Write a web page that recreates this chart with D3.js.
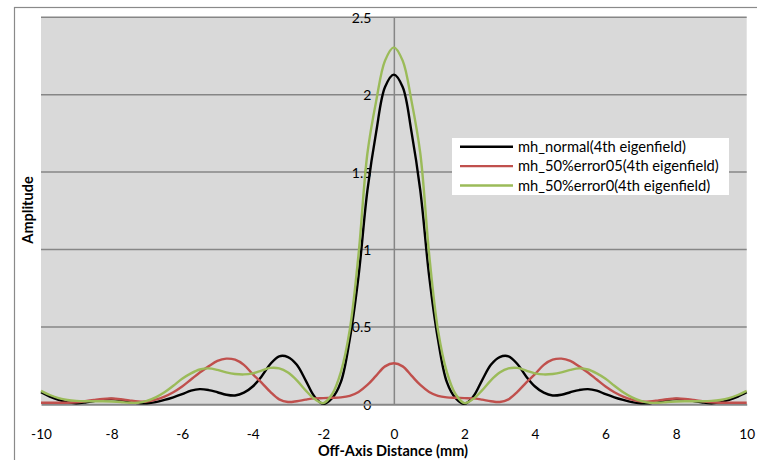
<!DOCTYPE html>
<html>
<head>
<meta charset="utf-8">
<script src="https://cdn.jsdelivr.net/npm/d3@7/dist/d3.min.js"></script>
<style>
  html, body { margin: 0; padding: 0; background: #ffffff; }
  svg { display: block; }
  text { font-family: Lato, "Open Sans", "Liberation Sans", sans-serif; fill: #000; }
</style>
</head>
<body>
<svg id="chart" width="757" height="460"></svg>
<script>
// Off-axis positions (mm), sampled every 0.25 mm
const distance = d3.range(-40, 41).map(i => i * 0.25);

// Amplitude profiles of the 4th eigenfield
const normal = [
  0.078, 0.05, 0.028, 0.012, 0.007, 0.012, 0.021, 0.03, 0.034, 0.028,
  0.017, 0.008, 0.007, 0.014, 0.028, 0.045, 0.065, 0.088, 0.098, 0.092,
  0.078, 0.062, 0.057, 0.075, 0.115, 0.18, 0.26, 0.31, 0.305, 0.255,
  0.155, 0.05, 0.003, 0.04, 0.145, 0.42, 0.83, 1.38, 1.76, 2.05,
  2.13,
  2.05, 1.76, 1.38, 0.83, 0.42, 0.145, 0.04, 0.003, 0.05, 0.155,
  0.255, 0.305, 0.31, 0.26, 0.18, 0.115, 0.075, 0.057, 0.062, 0.078,
  0.092, 0.098, 0.088, 0.065, 0.045, 0.028, 0.014, 0.007, 0.007, 0.017,
  0.028, 0.034, 0.03, 0.021, 0.012, 0.007, 0.012, 0.028, 0.05, 0.078
];

const error05 = [
  0.01, 0.01, 0.01, 0.01, 0.013, 0.02, 0.028, 0.035, 0.037, 0.033,
  0.025, 0.018, 0.018, 0.03, 0.05, 0.078, 0.115, 0.16, 0.205, 0.245,
  0.28, 0.295, 0.288, 0.255, 0.195, 0.14, 0.08, 0.032, 0.015, 0.02,
  0.03, 0.038, 0.04, 0.042, 0.045, 0.055, 0.08, 0.125, 0.185, 0.245,
  0.265,
  0.245, 0.185, 0.125, 0.08, 0.055, 0.045, 0.042, 0.04, 0.038, 0.03,
  0.02, 0.015, 0.032, 0.08, 0.14, 0.195, 0.255, 0.288, 0.295, 0.28,
  0.245, 0.205, 0.16, 0.115, 0.078, 0.05, 0.03, 0.018, 0.018, 0.025,
  0.033, 0.037, 0.035, 0.028, 0.02, 0.013, 0.01, 0.01, 0.01, 0.01
];

const error0 = [
  0.087, 0.06, 0.04, 0.028, 0.022, 0.02, 0.02, 0.02, 0.018, 0.015,
  0.01, 0.01, 0.022, 0.045, 0.078, 0.12, 0.165, 0.2, 0.225, 0.232,
  0.222, 0.206, 0.196, 0.193, 0.2, 0.218, 0.235, 0.232, 0.205, 0.155,
  0.09, 0.035, 0.008, 0.065, 0.21, 0.48, 0.97, 1.62, 1.96, 2.22,
  2.306,
  2.22, 1.96, 1.62, 0.97, 0.48, 0.21, 0.065, 0.008, 0.035, 0.09,
  0.155, 0.205, 0.232, 0.235, 0.218, 0.2, 0.193, 0.196, 0.206, 0.222,
  0.232, 0.225, 0.2, 0.165, 0.12, 0.078, 0.045, 0.022, 0.01, 0.01,
  0.015, 0.018, 0.02, 0.02, 0.02, 0.022, 0.028, 0.04, 0.06, 0.087
];

const seriesNames = [
  "mh_normal(4th eigenfield)",
  "mh_50%error05(4th eigenfield)",
  "mh_50%error0(4th eigenfield)"
];
const seriesColors = ["#000000", "#C0504D", "#9BBB59"];
const seriesValues = [normal, error05, error0];

const xTicks = [-10, -8, -6, -4, -2, 0, 2, 4, 6, 8, 10];
const yTicks = [0, 0.5, 1, 1.5, 2, 2.5];

const svg = d3.select("#chart");
const plot = { left: 41, right: 746.7, top: 17.3, bottom: 404.3 };

const x = d3.scaleLinear().domain([-10, 10]).range([plot.left, plot.right]);
const y = d3.scaleLinear().domain([0, 2.5]).range([plot.bottom, plot.top]);

// plain hyphen for negatives, no trailing zeros
const fmt = d => String(d);

// chart frame
svg.append("rect")
  .attr("x", 14.5).attr("y", 7.5)
  .attr("width", 800).attr("height", 500)
  .attr("fill", "#fff").attr("stroke", "#8a8a8a").attr("stroke-width", 1.2);

// plot background
svg.append("rect")
  .attr("x", plot.left).attr("y", plot.top)
  .attr("width", plot.right - plot.left).attr("height", plot.bottom - plot.top)
  .attr("fill", "#D9D9D9");

// horizontal gridlines
svg.append("g")
  .selectAll("line")
  .data(yTicks.filter(d => d > 0))
  .join("line")
  .attr("x1", plot.left).attr("x2", plot.right)
  .attr("y1", d => y(d)).attr("y2", d => y(d))
  .attr("stroke", "#868686").attr("stroke-width", 1.5);

// vertical axis through x = 0, with its labels on the left
const yAxis = d3.axisLeft(y).tickValues(yTicks).tickSize(0).tickPadding(0)
  .tickFormat(fmt);
const gy = svg.append("g")
  .attr("transform", `translate(${x(0)},0)`)
  .call(yAxis);
gy.select(".domain").attr("stroke", "#868686").attr("stroke-width", 1.5);
gy.selectAll("text")
  .attr("x", -22.5)
  .attr("dy", "0.35em")
  .style("font-size", "14px")
  .style("font-family", "Lato, 'Open Sans', sans-serif");

// horizontal axis along y = 0, labels below the plot
const xAxis = d3.axisBottom(x).tickValues(xTicks).tickSize(0).tickPadding(0)
  .tickFormat(fmt);
const gx = svg.append("g")
  .attr("transform", `translate(0,${y(0)})`)
  .call(xAxis);
gx.select(".domain").attr("stroke", "#868686").attr("stroke-width", 2);
gx.selectAll("text")
  .attr("y", 30.2)
  .attr("dy", "0.35em")
  .style("font-size", "13.6px")
  .style("font-family", "Lato, 'Open Sans', sans-serif");

// curves
const line = d3.line()
  .x((d, i) => x(distance[i]))
  .y(d => y(d))
  .curve(d3.curveCatmullRom.alpha(0.5));

svg.append("g")
  .selectAll("path")
  .data(seriesValues)
  .join("path")
  .attr("d", d => line(d))
  .attr("fill", "none")
  .attr("stroke", (d, i) => seriesColors[i])
  .attr("stroke-width", 2.4)
  .attr("stroke-linejoin", "round");

// axis titles
svg.append("text")
  .attr("x", 393).attr("y", 456)
  .attr("text-anchor", "middle")
  .style("font-size", "14.5px").style("font-weight", "bold")
  .text("Off-Axis Distance (mm)");

svg.append("text")
  .attr("transform", "translate(33,210) rotate(-90)")
  .attr("text-anchor", "middle")
  .style("font-size", "14.5px").style("font-weight", "bold")
  .text("Amplitude");

// legend
const legend = svg.append("g");
legend.append("rect")
  .attr("x", 452).attr("y", 138)
  .attr("width", 277).attr("height", 57)
  .attr("fill", "#fff");
const rows = legend.selectAll("g.row")
  .data(seriesNames)
  .join("g")
  .attr("class", "row")
  .attr("transform", (d, i) => `translate(0,${146.7 + i * 19.4})`);
rows.append("line")
  .attr("x1", 460).attr("x2", 513)
  .attr("stroke", (d, i) => seriesColors[i])
  .attr("stroke-width", 2.4);
rows.append("text")
  .attr("x", 518).attr("dy", "0.35em")
  .style("font-size", "14.7px")
  .text(d => d);
</script>
</body>
</html>
